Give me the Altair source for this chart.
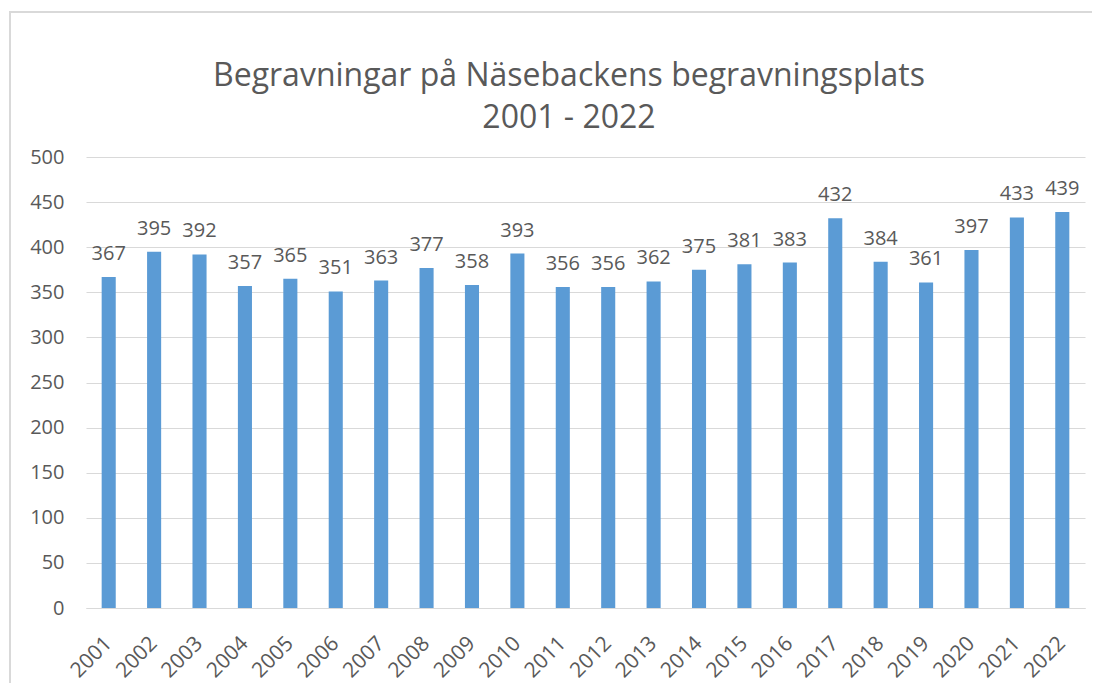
import altair as alt
import pandas as pd

years = [str(y) for y in range(2001, 2023)]
values = [367, 395, 392, 357, 365, 351, 363, 377, 358, 393, 356,
          356, 362, 375, 381, 383, 432, 384, 361, 397, 433, 439]
title_lines = ["Begravningar på Näsebackens begravningsplats", "2001 - 2022"]
y_ticks = [0, 50, 100, 150, 200, 250, 300, 350, 400, 450, 500]

df = pd.DataFrame({"year": years, "value": values})

FONT = "Open Sans"
TXT = "#595959"
GRID = "#D9D9D9"

x = alt.X("year:N", title=None, sort=years,
          scale=alt.Scale(paddingInner=0.69, paddingOuter=0.345),
          axis=alt.Axis(labelAngle=-45, labelAlign="right", labelBaseline="middle",
                        labelPadding=32, ticks=False, domainColor=GRID,
                        labelFont=FONT, labelFontSize=21, labelColor=TXT))
y = alt.Y("value:Q", title=None,
          scale=alt.Scale(domain=[0, 500], nice=False),
          axis=alt.Axis(values=y_ticks, ticks=False, domain=False, gridColor=GRID,
                        labelPadding=22, labelFont=FONT, labelFontSize=20,
                        labelColor=TXT))

bars = alt.Chart(df).mark_bar(color="#5B9BD5").encode(x=x, y=y)
labels = alt.Chart(df).mark_text(baseline="bottom", dy=-13, font=FONT, fontSize=20,
                                 color=TXT).encode(x=x, y=y, text="value:Q")
border = alt.Chart(df).mark_rect(fill=None, stroke=GRID, strokeWidth=1.5).encode(
    x=alt.value(-76), x2=alt.value(1011), y=alt.value(-145), y2=alt.value(533))

title_layers = []
for i, line in enumerate(title_lines):
    t = alt.Chart(pd.DataFrame({"line": [line]})).mark_text(
        font=FONT, fontSize=32, color=TXT, baseline="middle", align="center"
    ).encode(x=alt.value(483), y=alt.value(-81 + 42 * i), text="line:N")
    title_layers.append(t)

chart = alt.layer(border, bars, labels, *title_layers).properties(
    width=999, height=451,
    autosize=alt.AutoSizeParams(type="none"),
    padding={"left": 78, "top": 149, "right": 7, "bottom": 75},
    background="white",
).configure_view(stroke=None)

chart.save("out.html", embed_options={"renderer": "svg", "actions": False})
